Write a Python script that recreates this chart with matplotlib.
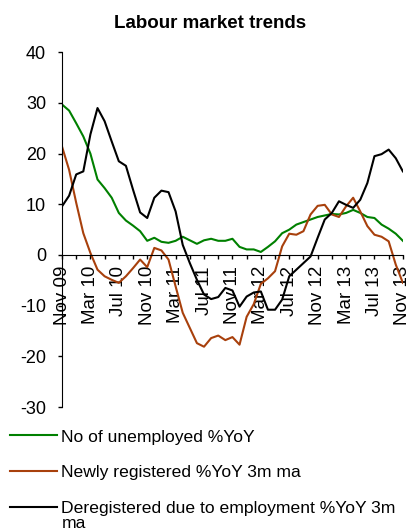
import numpy as np
import matplotlib
matplotlib.use("Agg")
import matplotlib.pyplot as plt

plt.rcParams["font.family"] = ["Liberation Sans", "DejaVu Sans"]
plt.rcParams["axes.unicode_minus"] = False

# Monthly series, Nov 09 .. Nov 13 (49 months)
unemployed = [29.7, 28.5, 26.0, 23.4, 20.0, 14.9, 13.2, 11.3, 8.3, 6.8,
              5.8, 4.7, 2.8, 3.4, 2.6, 2.4, 2.8, 3.6, 2.9, 2.2,
              2.9, 3.2, 2.8, 2.8, 3.2, 1.6, 1.1, 1.1, 0.6, 1.6,
              2.7, 4.3, 5.0, 6.0, 6.5, 7.0, 7.5, 7.8, 8.1, 8.0,
              8.3, 8.9, 8.3, 7.5, 7.3, 6.0, 5.2, 4.2, 2.8]
newly_registered = [21.4, 16.8, 10.3, 4.3, 0.4, -2.9, -4.2, -4.9, -5.5, -4.2,
                    -2.6, -0.9, -2.4, 1.4, 0.9, -0.9, -6.2, -11.4, -14.4, -17.4,
                    -18.1, -16.4, -15.9, -16.8, -16.2, -17.7, -12.2, -9.7, -5.7, -4.6,
                    -3.2, 1.7, 4.2, 4.0, 4.7, 8.0, 9.7, 9.9, 8.0, 7.5,
                    9.6, 11.3, 8.6, 5.7, 4.0, 3.6, 2.7, -1.9, -5.5]
deregistered = [9.6, 11.7, 15.9, 16.5, 23.8, 29.0, 26.4, 22.4, 18.5, 17.6,
                12.9, 8.4, 7.3, 11.3, 12.7, 12.4, 8.6, 2.0, -1.6, -4.9,
                -7.8, -8.7, -8.3, -6.5, -7.0, -10.2, -8.2, -7.4, -7.2, -10.8,
                -10.8, -8.8, -4.2, -2.9, -1.6, -0.3, 3.4, 7.0, 8.3, 10.6,
                9.9, 9.3, 10.9, 14.2, 19.5, 19.9, 20.8, 19.1, 16.5]

tick_labels = ["Nov 09", "Mar 10", "Jul 10", "Nov 10", "Mar 11", "Jul 11", "Nov 11",
               "Mar 12", "Jul 12", "Nov 12", "Mar 13", "Jul 13", "Nov 13"]

x = np.arange(len(unemployed))

fig = plt.figure(figsize=(4.09, 5.31), dpi=100)
ax = fig.add_axes([0.1516, 0.2335, 0.8334, 0.668])

ax.plot(x, unemployed, color="#008000", lw=1.5, label="No of unemployed %YoY")
ax.plot(x, newly_registered, color="#A8400C", lw=1.5, label="Newly registered %YoY 3m ma")
ax.plot(x, deregistered, color="#000000", lw=1.5,
        label="Deregistered due to employment %YoY 3m")

ax.set_xlim(0, 48)
ax.set_ylim(-30, 40)
ax.set_yticks(range(-30, 41, 10))

ax.spines["top"].set_visible(False)
ax.spines["right"].set_visible(False)
ax.spines["bottom"].set_position(("data", 0))

ax.set_xticks(np.arange(0, 49, 4))
ax.set_xticklabels(tick_labels, rotation=90)
ax.set_xticks(np.arange(0, 49, 2), minor=True)
ax.tick_params(axis="x", which="both", direction="out", length=3, width=1,
               labelsize=13.5, pad=5)
ax.tick_params(axis="y", direction="out", length=3, width=1, labelsize=13, pad=8.5)

fig.text(0.513, 0.955, "Labour market trends", fontsize=13.5, fontweight="bold",
         ha="center", va="center")

# legend below the plot; the last label wraps onto "ma"
fig.legend(loc="upper left", bbox_to_anchor=(10 / 409, 0.1915), frameon=False,
           fontsize=12.6, handlelength=2.7, handletextpad=0.2,
           labelspacing=1.17, borderaxespad=0, borderpad=0)
fig.text(62 / 409, 1 - 523 / 531, "ma", fontsize=12.6, ha="left", va="center")

fig.savefig("out.png", dpi=100)
